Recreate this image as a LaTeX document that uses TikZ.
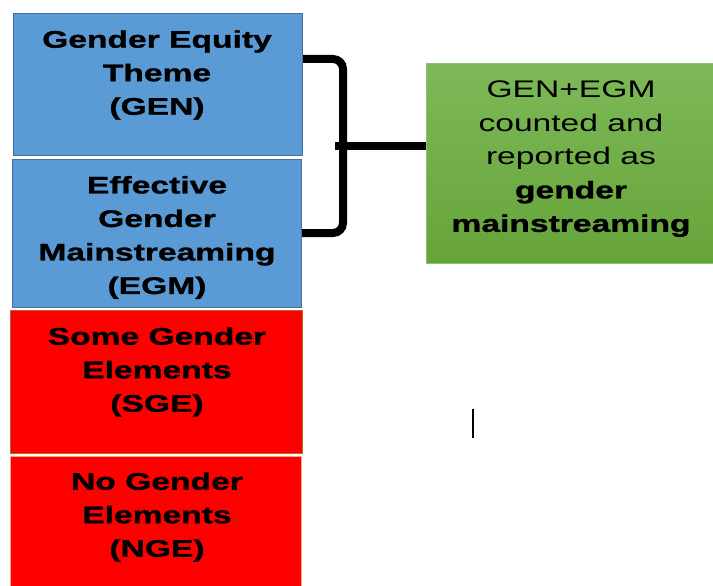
\documentclass[tikz,border=0pt]{standalone}
\usepackage{fontspec}
\newfontfamily\boxfont[FakeStretch=1.4,BoldFeatures={FakeBold=1.2}]{Liberation Sans}
\definecolor{boxblue}{HTML}{5B9BD5}
\definecolor{boxblueline}{HTML}{41719C}
\definecolor{boxred}{HTML}{FF0000}
\definecolor{sgeline}{HTML}{C0651F}
\definecolor{ngeline}{HTML}{F4B183}
\definecolor{greentop}{HTML}{7DB957}
\definecolor{greenbottom}{HTML}{66A43A}
\definecolor{greenline}{HTML}{8CC168}
\begin{document}
\begin{tikzpicture}
[x=1pt,y=-1pt,
  boxdecorate/.style={shape=rectangle,anchor=north west,inner sep=0pt,line width=1.2pt},%
  textdecorate/.style={align=center,inner sep=0pt,
    font=\boxfont\fontsize{24}{33.5}\selectfont},%
  bracedecorate/.style={-,line width=8pt,rounded corners=10pt}]
\useasboundingbox (0,0) rectangle (713,586);
%% category boxes on the left
\foreach \boxname/\x/\y/\w/\h/\fillcol/\linecol in {gen/13/13/289/142/boxblue/boxblueline,
  egm/12/159/289/148/boxblue/boxblueline, sge/10/310/292/143/boxred/sgeline,
  nge/10/456/291/140/boxred/ngeline} {
  \node (\boxname) at (\x,\y) [boxdecorate,fill=\fillcol,draw=\linecol,
    minimum width=\w,minimum height=\h] {};
}
%% box texts
\node (gentext) at (157,75) [textdecorate] {\bfseries Gender Equity\\ \bfseries Theme\\ \bfseries (GEN)};
\node (egmtext) at (157,237.5) [textdecorate] {\bfseries Effective\\ \bfseries Gender\\ \bfseries Mainstreaming\\ \bfseries (EGM)};
\node (sgetext) at (157,372) [textdecorate] {\bfseries Some Gender\\ \bfseries Elements\\ \bfseries (SGE)};
\node (ngetext) at (157,517) [textdecorate] {\bfseries No Gender\\ \bfseries Elements\\ \bfseries (NGE)};
%% result box
\node (result) at (426,63) [boxdecorate,top color=greentop,bottom color=greenbottom,
  draw=greenline,minimum width=290,minimum height=200] {};
\node (resulttext) at (571,159) [textdecorate] {GEN+EGM\\ counted and\\ reported as\\
  \bfseries gender\\ \bfseries mainstreaming};
%% brace joining GEN and EGM to the result
\coordinate (bracetop) at (gen.east |- 0,59);
\coordinate (bracebottom) at (egm.east |- 0,233);
\coordinate (bracetip) at (335,146);
\draw[bracedecorate] (bracetop) -- (343,59) -- (343,233) -- (bracebottom);
\draw[bracedecorate] (bracetip) -- (result.west |- bracetip);
%% stray text cursor
\coordinate (cursortop) at (473,409);
\coordinate (cursorbottom) at (473,438);
\draw[line width=2pt] (cursortop) -- (cursorbottom);
\end{tikzpicture}
\end{document}
